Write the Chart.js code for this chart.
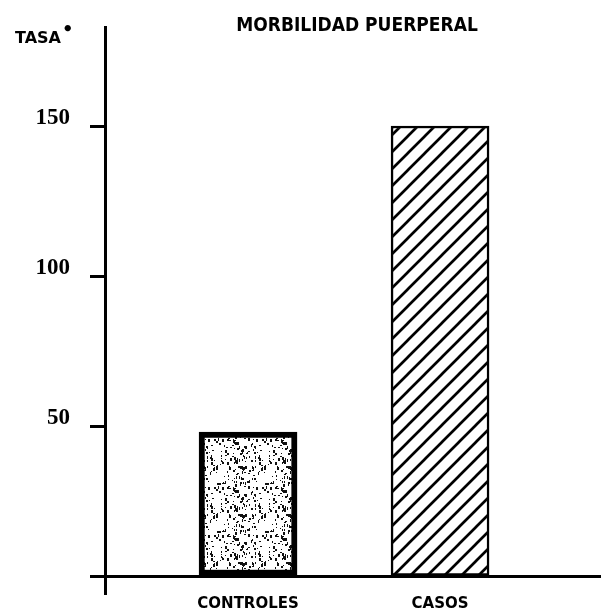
<!DOCTYPE html>
<html>
<head>
<meta charset="utf-8">
<script src="https://cdn.jsdelivr.net/npm/chart.js@4"></script>
<style>
    html, body { margin: 0; padding: 0; background: #fff; }
</style>
</head>
<body>
<canvas id="chart" width="607" height="614"></canvas>
<script>
// Chart data
const categories = ['CONTROLES', 'CASOS'];
const categoryPositions = [1, 2];
const tasaValues = [48, 150];
const yTickValues = [50, 100, 150];
const chartTitle = 'MORBILIDAD PUERPERAL';
const yAxisTitle = 'TASA';

// Stippled fill for the control bar (seeded, so it is the same every run)
function makeStipple() {
    const c = document.createElement('canvas');
    c.width = 48;
    c.height = 48;
    const g = c.getContext('2d');
    g.fillStyle = '#fff';
    g.fillRect(0, 0, 48, 48);
    let seed = 12345;
    const rnd = () => (seed = (seed * 16807) % 2147483647) / 2147483647;
    g.fillStyle = '#111';
    for (let i = 0; i < 150; i++) {
        const x = Math.floor(rnd() * 48);
        const y = Math.floor(rnd() * 48);
        g.fillRect(x, y, 1 + Math.floor(rnd() * 2), 1 + Math.floor(rnd() * 3));
    }
    return g.createPattern(c, 'repeat');
}

// Diagonal hatch for the cases bar
function makeHatch() {
    const n = 17;
    const c = document.createElement('canvas');
    c.width = n;
    c.height = n;
    const g = c.getContext('2d');
    g.fillStyle = '#fff';
    g.fillRect(0, 0, n, n);
    g.strokeStyle = '#000';
    g.lineWidth = 2.7;
    g.beginPath();
    g.moveTo(0, n); g.lineTo(n, 0);
    g.moveTo(-2, 2); g.lineTo(2, -2);
    g.moveTo(n - 2, n + 2); g.lineTo(n + 2, n - 2);
    g.stroke();
    return g.createPattern(c, 'repeat');
}

// Title and axis caption
const textPlugin = {
    id: 'texts',
    afterDraw(chart) {
        const g = chart.ctx;
        g.save();
        g.fillStyle = '#000';
        g.textBaseline = 'alphabetic';
        g.font = 'bold 19px "DejaVu Sans Condensed"';
        g.textAlign = 'center';
        g.fillText(chartTitle, 357, 31);
        g.font = 'bold 16px "DejaVu Sans"';
        g.textAlign = 'left';
        g.fillText(yAxisTitle, 15, 43);
        const w = g.measureText(yAxisTitle).width;
        g.font = 'bold 18px "DejaVu Sans"';
        g.fillText('\u2022', 15 + w + 1, 35);
        g.restore();
    }
};

const ctx = document.getElementById('chart').getContext('2d');
new Chart(ctx, {
    type: 'bar',
    data: {
        datasets: [{
            data: categoryPositions.map((x, i) => ({ x: x, y: tasaValues[i] })),
            backgroundColor: [makeStipple(), makeHatch()],
            borderColor: '#000',
            borderWidth: [6, 2.5],
            borderSkipped: false,
            barThickness: 98
        }]
    },
    options: {
        responsive: false,
        animation: false,
        layout: {
            padding: { left: 25, right: 7, top: 27, bottom: 20 }
        },
        plugins: {
            legend: { display: false },
            tooltip: { enabled: false },
            title: { display: false }
        },
        scales: {
            x: {
                type: 'linear',
                position: { y: 0 },
                offset: false,
                min: 0.255,
                max: 2.833,
                grid: { display: false, drawTicks: false },
                border: { display: true, color: '#000', width: 3 },
                ticks: {
                    stepSize: 1,
                    includeBounds: false,
                    autoSkip: false,
                    maxRotation: 0,
                    padding: 19,
                    color: '#000',
                    font: { family: 'DejaVu Sans', weight: 'bold', size: 15 },
                    callback: function(value) {
                        const i = categoryPositions.indexOf(value);
                        return i >= 0 ? categories[i] : '';
                    }
                }
            },
            y: {
                type: 'linear',
                position: 'left',
                min: -6,
                max: 183,
                afterFit: function(scale) {
                    scale.width = 80;
                    scale.paddingTop = 0;
                    scale.paddingBottom = 0;
                },
                grid: {
                    drawOnChartArea: false,
                    drawTicks: true,
                    tickLength: 15,
                    tickWidth: 3,
                    color: '#000'
                },
                border: { display: true, color: '#000', width: 3 },
                ticks: {
                    stepSize: 50,
                    includeBounds: false,
                    padding: 20,
                    labelOffset: -8,
                    color: '#000',
                    font: { family: 'Liberation Serif', weight: 'bold', size: 23 },
                    callback: function(value) {
                        return yTickValues.includes(value) ? String(value) : '';
                    }
                }
            }
        }
    },
    plugins: [textPlugin]
});
</script>
</body>
</html>
